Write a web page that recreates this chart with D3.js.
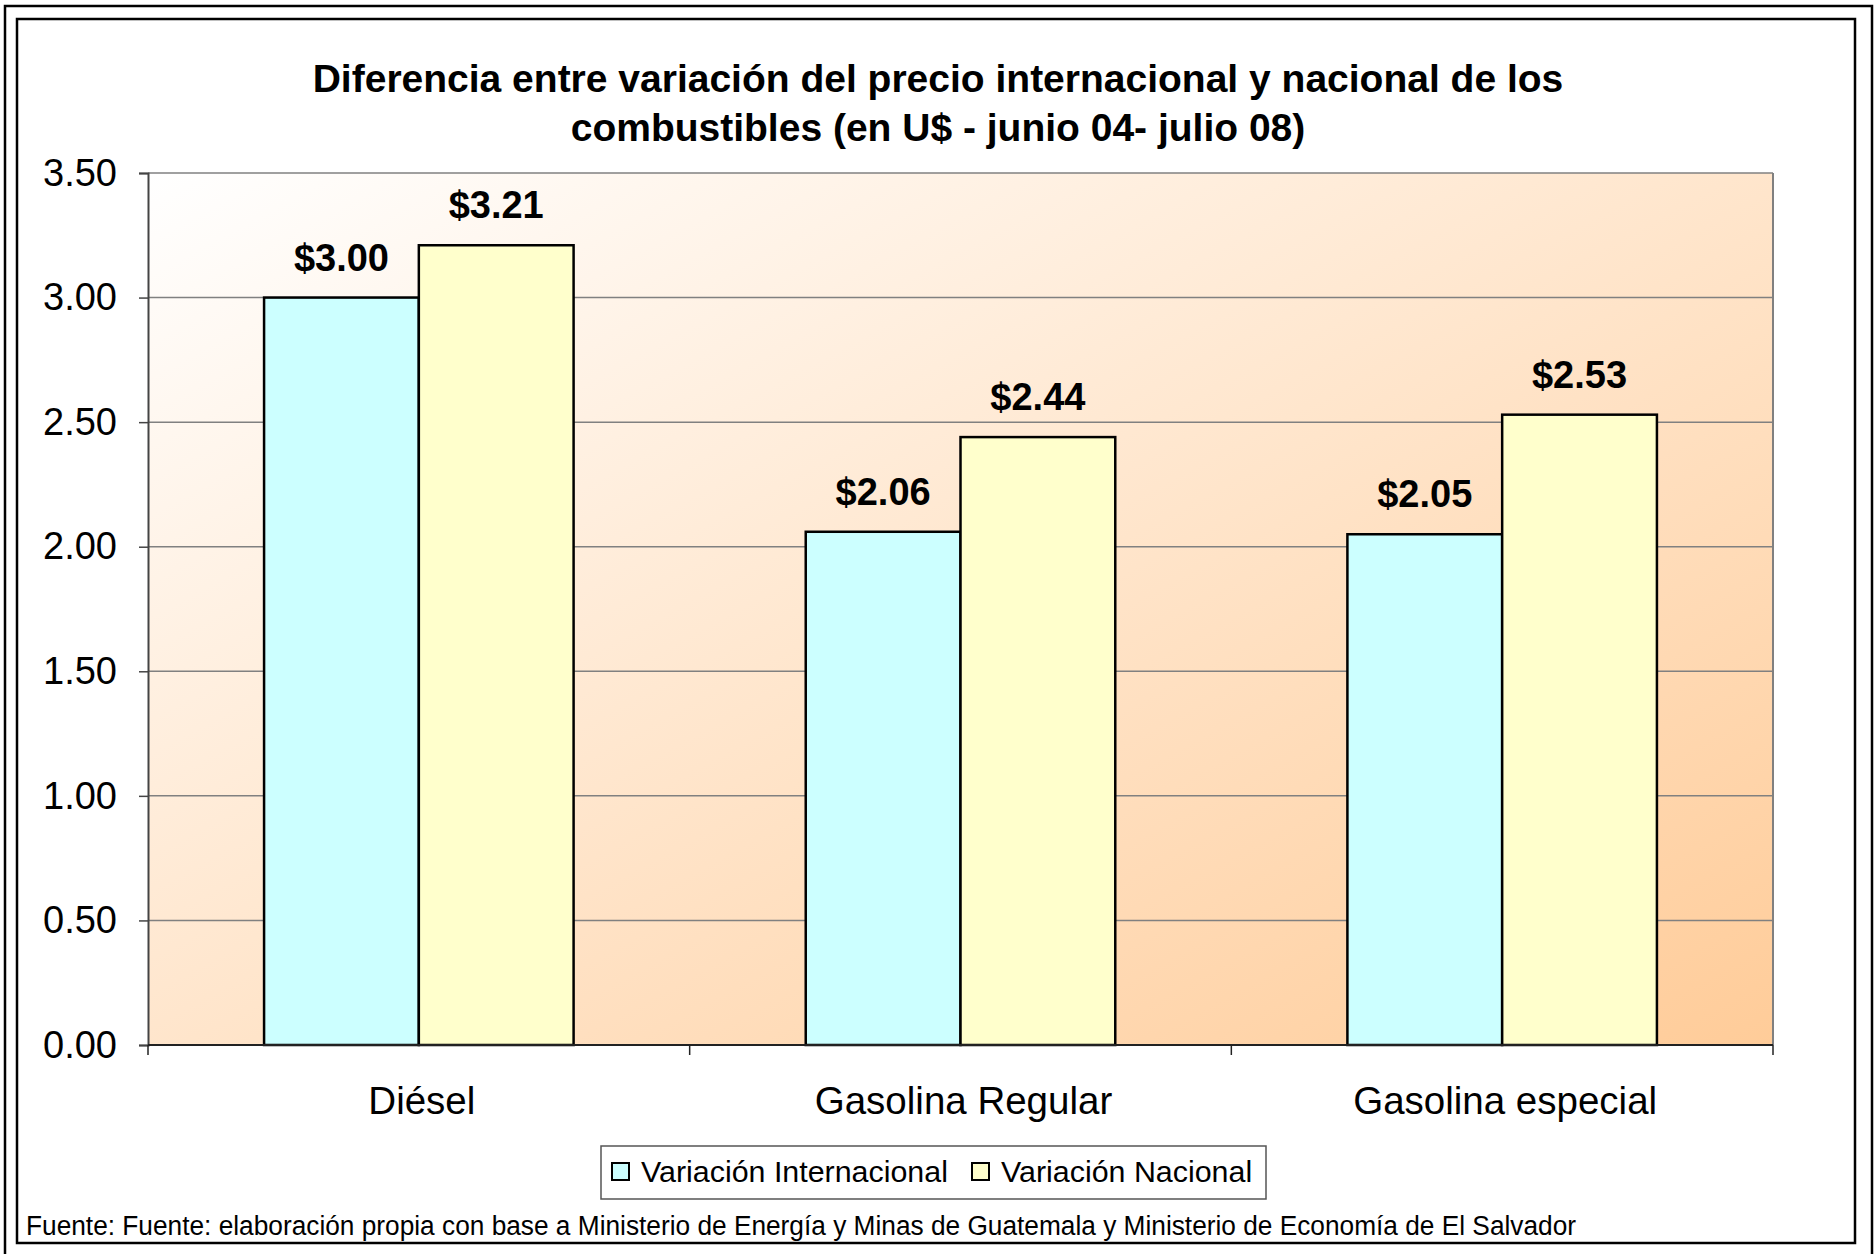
<!DOCTYPE html>
<html>
<head>
<meta charset="utf-8">
<script src="https://cdn.jsdelivr.net/npm/d3@7"></script>
<style>
  body { margin: 0; background: #fff; }
  text { font-family: "Liberation Sans", Arial, sans-serif; }
</style>
</head>
<body>
<div id="chart"></div>
<script>
// data
const categories = ["Diésel", "Gasolina Regular", "Gasolina especial"];
const seriesNames = ["Variación Internacional", "Variación Nacional"];
const internacional = [3.00, 2.06, 2.05];
const nacional = [3.21, 2.44, 2.53];
const yTicks = [0, 0.5, 1, 1.5, 2, 2.5, 3, 3.5];
const titleLines = ["Diferencia entre variación del precio internacional y nacional de los",
                    "combustibles (en U$ - junio 04- julio 08)"];
const footer = "Fuente: Fuente: elaboración propia con base a Ministerio de Energía y Minas de Guatemala y Ministerio de Economía de El Salvador";
const colors = ["#CCFFFF", "#FFFFCC"];

const W = 1875, H = 1254;
const margin = {top: 173, right: 102, bottom: 209, left: 148};
const width = W - margin.left - margin.right,
      height = H - margin.top - margin.bottom;

const svg = d3.select("#chart").append("svg")
  .attr("width", W).attr("height", H);

// frames
svg.append("rect").attr("x", 5).attr("y", 6).attr("width", 1867).attr("height", 1260)
  .attr("fill", "none").attr("stroke", "#000").attr("stroke-width", 2.5);
svg.append("rect").attr("x", 17).attr("y", 19).attr("width", 1838).attr("height", 1224)
  .attr("fill", "#fff").attr("stroke", "#000").attr("stroke-width", 2.5);

// background gradient
const defs = svg.append("defs");
const grad = defs.append("linearGradient").attr("id", "bg")
  .attr("x1", 0).attr("y1", 0).attr("x2", 1).attr("y2", 1);
grad.append("stop").attr("offset", "0%").attr("stop-color", "#FFFFFF");
grad.append("stop").attr("offset", "100%").attr("stop-color", "#FFCC99");

// title
svg.append("text")
  .attr("x", 938).attr("y", 92)
  .attr("text-anchor", "middle")
  .style("font-size", "39px").style("font-weight", "bold")
  .selectAll("tspan").data(titleLines).enter().append("tspan")
  .attr("x", 938).attr("dy", (d, i) => i === 0 ? 0 : 49)
  .text(d => d);

const g = svg.append("g")
  .attr("transform", "translate(" + margin.left + "," + margin.top + ")");

g.append("rect").attr("width", width).attr("height", height)
  .attr("fill", "url(#bg)");

// scales
const x0 = d3.scaleBand().domain(categories).range([0, width]).padding(0);
const x1 = d3.scaleBand().domain(seriesNames).range([0, x0.bandwidth()])
  .paddingInner(0).paddingOuter(0.75);
const y = d3.scaleLinear().domain([0, 3.5]).range([height, 0]);

// gridlines
g.selectAll(".grid").data(yTicks.slice(1)).enter().append("line")
  .attr("x1", 0).attr("x2", width)
  .attr("y1", d => y(d)).attr("y2", d => y(d))
  .attr("stroke", "#808080").attr("stroke-width", 1.5);

// right border of plot
g.append("line").attr("x1", width).attr("x2", width).attr("y1", 0).attr("y2", height)
  .attr("stroke", "#808080").attr("stroke-width", 2);

// bars
const rows = categories.map((c, i) => ({cat: c, vals: [internacional[i], nacional[i]]}));
const grp = g.selectAll(".cat").data(rows).enter().append("g")
  .attr("transform", d => "translate(" + x0(d.cat) + ",0)");

grp.selectAll("rect").data(d => d.vals.map((v, j) => ({s: seriesNames[j], v: v, j: j})))
  .enter().append("rect")
  .attr("x", d => x1(d.s))
  .attr("y", d => y(d.v))
  .attr("width", x1.bandwidth())
  .attr("height", d => height - y(d.v))
  .attr("fill", d => colors[d.j])
  .attr("stroke", "#000").attr("stroke-width", 2.5);

grp.selectAll(".lbl").data(d => d.vals.map((v, j) => ({s: seriesNames[j], v: v})))
  .enter().append("text")
  .attr("x", d => x1(d.s) + x1.bandwidth() / 2)
  .attr("y", d => y(d.v) - 27)
  .attr("text-anchor", "middle")
  .style("font-size", "38px").style("font-weight", "bold")
  .text(d => "$" + d.v.toFixed(2));

// axes
const yAxis = g.append("g")
  .call(d3.axisLeft(y).tickValues(yTicks).tickSize(9).tickPadding(22)
    .tickFormat(d3.format(".2f")));
yAxis.select(".domain").attr("stroke", "#444").attr("stroke-width", 2);
yAxis.selectAll(".tick line").attr("stroke", "#444").attr("stroke-width", 1.5);
yAxis.selectAll("text").style("font-size", "38px").attr("fill", "#000");

const xAxis = g.append("g")
  .attr("transform", "translate(0," + height + ")")
  .call(d3.axisBottom(x0).tickSize(0).tickPadding(0).tickFormat(""));
xAxis.select(".domain").remove();
xAxis.selectAll(".tick").remove();
xAxis.append("line").attr("x1", 0).attr("x2", width)
  .attr("stroke", "#222").attr("stroke-width", 2);
xAxis.selectAll(".sep").data([0].concat(categories.map(c => x0(c) + x0.step())))
  .enter().append("line")
  .attr("x1", d => d).attr("x2", d => d).attr("y1", 0).attr("y2", 10)
  .attr("stroke", "#222").attr("stroke-width", 1.5);
xAxis.selectAll(".catlbl").data(categories).enter().append("text")
  .attr("x", d => x0(d) + x0.bandwidth() / 2 + 3)
  .attr("y", 69)
  .attr("text-anchor", "middle")
  .style("font-size", "38.5px").attr("fill", "#000")
  .text(d => d);

// legend
const leg = svg.append("g").attr("transform", "translate(601,1146)");
leg.append("rect").attr("width", 665).attr("height", 53)
  .attr("fill", "#fff").attr("stroke", "#555").attr("stroke-width", 1.5);
const legX = [11, 371];
const items = leg.selectAll(".item").data(seriesNames).enter().append("g")
  .attr("transform", (d, i) => "translate(" + legX[i] + ",0)");
items.append("rect").attr("y", 17).attr("width", 17).attr("height", 17)
  .attr("fill", (d, i) => colors[i]).attr("stroke", "#000").attr("stroke-width", 2);
items.append("text").attr("x", 29).attr("y", 36)
  .style("font-size", "30.4px").text(d => d);

// footer
svg.append("text").attr("x", 26).attr("y", 1235)
  .attr("textLength", 1550).attr("lengthAdjust", "spacingAndGlyphs")
  .style("font-size", "27px")
  .text(footer);
</script>
</body>
</html>
